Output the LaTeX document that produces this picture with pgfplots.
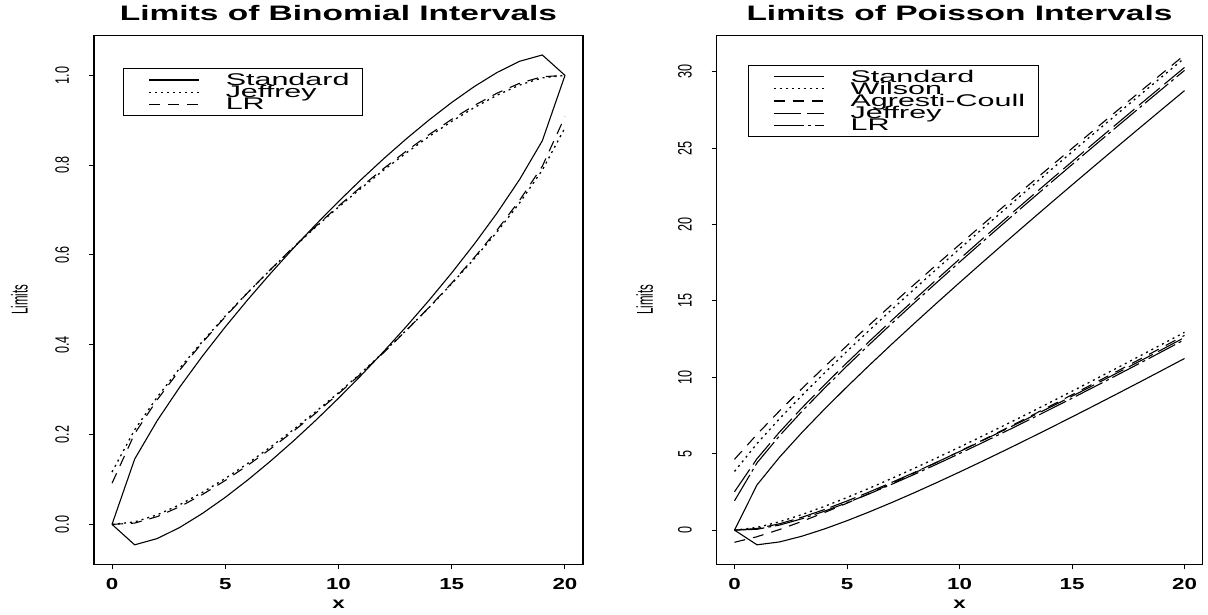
\documentclass[border=0pt]{standalone}
\usepackage{pgfplots}
\pgfplotsset{compat=1.18}
\usepackage{pgfplotstable}
\usepackage{fontspec}
\setmainfont{Liberation Sans}
\newfontfamily\titlefam[FakeStretch=1.6]{Liberation Sans}
\newfontfamily\tickfam[FakeStretch=1.4]{Liberation Sans}
\newfontfamily\ytickfam[FakeStretch=0.65]{Liberation Sans}
\newfontfamily\limfam[FakeStretch=0.5]{Liberation Sans}
\newfontfamily\legfam[FakeStretch=1.8]{Liberation Sans}
\newcommand\ttfont{\titlefam\bfseries\fontsize{21}{24}\selectfont}
\newcommand\xtfont{\tickfam\bfseries\fontsize{16}{18}\selectfont}
\newcommand\ytfont{\ytickfam\fontsize{19.5}{22}\selectfont}
\newcommand\ylfont{\limfam\fontsize{23}{26}\selectfont}
\newcommand\lgfont{\legfam\fontsize{17}{19}\selectfont}

% binomial, n = 20: standard, Jeffrey, LR limits
\pgfplotstableread{
x  slo     shi     jlo     jhi     llo     lhi
0  0       0       0       0.1166  0       0.0916
1  -0.0455 0.1455  0.0055  0.2108  0.0029  0.2022
2  -0.0315 0.2315  0.0214  0.2838  0.0174  0.2779
3  -0.0065 0.3065  0.0441  0.3486  0.0396  0.3444
4  0.0247  0.3753  0.0715  0.4079  0.0668  0.4054
5  0.0602  0.4398  0.1023  0.4640  0.0978  0.4625
6  0.0992  0.5008  0.1360  0.5170  0.1318  0.5165
7  0.1410  0.5590  0.1724  0.5673  0.1683  0.5679
8  0.1853  0.6147  0.2107  0.6159  0.2071  0.6171
9  0.2320  0.6680  0.2512  0.6626  0.2480  0.6641
10 0.2809  0.7191  0.2932  0.7068  0.2910  0.7090
11 0.3320  0.7680  0.3374  0.7488  0.3359  0.7520
12 0.3853  0.8147  0.3841  0.7893  0.3829  0.7929
13 0.4410  0.8590  0.4327  0.8276  0.4321  0.8317
14 0.4992  0.9008  0.4830  0.8640  0.4835  0.8682
15 0.5602  0.9398  0.5360  0.8977  0.5375  0.9022
16 0.6247  0.9753  0.5921  0.9285  0.5946  0.9332
17 0.6935  1.0065  0.6514  0.9559  0.6556  0.9604
18 0.7685  1.0315  0.7163  0.9786  0.7221  0.9826
19 0.8545  1.0455  0.7892  0.9945  0.7978  0.9971
20 1       1       0.8834  1       0.9084  1
}\bintab

% poisson: standard, Wilson, Agresti-Coull, Jeffrey, LR limits
\pgfplotstableread{
x  slo     shi     wlo     whi     alo     ahi     jlo     jhi     llo     lhi
0  0       0       0       3.8416  -0.7956 4.6372  0       2.512   0       1.9208
1  -0.96   2.96    0.1765  5.6651  -0.4289 6.2705  0.1079  4.674   0.0571  4.403
2  -0.772  4.772   0.5485  7.2931  0.0398  7.8018  0.4156  6.4165  0.3326  6.1758
3  -0.395  6.395   1.0202  8.8214  0.5730  9.2687  0.845   8.0065  0.7461  7.779
4  0.08    7.92    1.5555  10.2861 1.1516  10.6900 1.350   9.5115  1.2418  9.292
5  0.617   9.383   2.1357  11.7059 1.7646  12.0771 1.908   10.960  1.793   10.7465
6  1.199   10.801  2.7498  13.0918 2.4046  13.4370 2.5045  12.368  2.3847  12.158
7  1.814   12.186  3.3908  14.4508 3.0667  14.7749 3.131   13.744  3.0078  13.5377
8  2.456   13.544  4.0538  15.7878 3.7473  16.0943 3.782   15.0955 3.6554  14.8917
9  3.12    14.88   4.7350  17.1066 4.4437  17.3979 4.4535  16.426  4.3246  16.2245
10 3.802   16.198  5.4319  18.4097 5.1536  18.6880 5.1415  17.7395 5.0108  17.5395
11 4.499   17.501  6.1424  19.6992 5.8755  19.9661 5.8445  19.038  5.7119  18.839
12 5.210   18.790  6.8647  20.9769 6.6079  21.2337 6.560   20.323  6.4255  20.126
13 5.933   20.067  7.5975  22.2441 7.3498  22.4918 7.2865  21.5975 7.1514  21.401
14 6.666   21.334  8.3398  23.5018 8.1002  23.7414 8.0235  22.861  7.8872  22.666
15 7.409   22.591  9.0905  24.7511 8.8584  24.9832 8.764   24.117  8.6319  23.9216
16 8.16    23.84   9.8489  25.9927 9.6235  26.2181 9.5175  25.364  9.3846  25.170
17 8.919   25.081  10.6144 27.2272 10.3952 27.4464 10.2845 26.6015 10.145  26.409
18 9.684   26.316  11.3863 28.4553 11.1728 28.6688 11.0475 27.8355 10.913  27.642
19 10.457  27.543  12.1641 29.6775 11.9559 29.8857 11.822  29.0615 11.686  28.869
20 11.235  28.765  12.9474 30.8942 12.7441 31.0975 12.6075 30.2805 12.465  30.090
}\poitab

\pgfplotsset{
  stdl/.style={black, line width=1.1bp, solid},
  dotl/.style={black, line width=1.3bp, dash pattern=on 2bp off 4bp},
  dashl/.style={black, line width=1.1bp, dash pattern=on 11bp off 8bp},
  longl/.style={black, line width=1.1bp, dash pattern=on 27bp off 6bp},
  lrpl/.style={black, line width=1.1bp, dash pattern=on 30bp off 4bp on 3bp off 4bp},
  limitsaxis/.style={
    scale only axis, anchor=south west, height=529bp,
    xmin=-0.8, xmax=20.8,
    xtick={0,5,10,15,20}, xticklabels={0,5,10,15,20},
    tick align=outside, tick pos=left, major tick length=5bp,
    tick style={black, line width=1bp},
    axis line style={line width=1.3bp},
    xticklabel style={font=\xtfont, anchor=north, inner sep=0pt},
    xticklabel shift=9bp,
    yticklabel style={font=\ytfont, rotate=90, anchor=base, inner sep=0pt},
    yticklabel shift=20bp,
    title style={font=\ttfont, at={(0.5,1)}, anchor=base, yshift=9.3bp},
    xlabel={x},
    xlabel style={font=\xtfont, at={(axis description cs:0.5,0)}, anchor=base, yshift=-44bp},
    ylabel={Limits},
    ylabel style={font=\ylfont, anchor=base},
    legend cell align=left,
    legend image code/.code={\path[draw=none] (0bp,0bp) -- (89bp,0bp);\draw[##1] (12bp,0bp) -- (62bp,0bp);},
    legend style={anchor=north west, draw=black, line width=1bp, fill=white,
      inner xsep=13bp, inner ysep=5bp, font=\lgfont, row sep=0pt, column sep=0pt,
      nodes={inner sep=0pt, text height=11.5bp, text depth=0.7bp}},
  },
}

\begin{document}
\begin{tikzpicture}
\useasboundingbox (0,0) rectangle (1208bp,615bp);
\begin{axis}[limitsaxis,
  at={(93.9bp,50.6bp)}, width=489.2bp,
  ymin=-0.0891, ymax=1.0891,
  ytick={0,0.2,0.4,0.6,0.8,1}, yticklabels={0.0,0.2,0.4,0.6,0.8,1.0},
  title={Limits of Binomial Intervals},
  ylabel style={at={(axis description cs:-0.1355,0.5)}},
  legend style={at={(0.06,0.9376)}},
]
\addplot[stdl] table[x=x,y=slo]{\bintab}; \addlegendentry{Standard}
\addplot[stdl, forget plot] table[x=x,y=shi]{\bintab};
\addplot[dotl] table[x=x,y=jlo]{\bintab}; \addlegendentry{Jeffrey}
\addplot[dotl, forget plot] table[x=x,y=jhi]{\bintab};
\addplot[dashl] table[x=x,y=llo]{\bintab}; \addlegendentry{LR}
\addplot[dashl, forget plot] table[x=x,y=lhi]{\bintab};
\end{axis}
\begin{axis}[limitsaxis,
  at={(716.5bp,50.6bp)}, width=486bp,
  ymin=-2.242, ymax=32.38,
  ytick={0,5,10,15,20,25,30}, yticklabels={0,5,10,15,20,25,30},
  title={Limits of Poisson Intervals},
  ylabel style={at={(axis description cs:-0.1311,0.5)}},
  legend style={at={(0.065,0.944)}},
]
\addplot[stdl] table[x=x,y=slo]{\poitab}; \addlegendentry{Standard}
\addplot[stdl, forget plot] table[x=x,y=shi]{\poitab};
\addplot[dotl] table[x=x,y=wlo]{\poitab}; \addlegendentry{Wilson}
\addplot[dotl, forget plot] table[x=x,y=whi]{\poitab};
\addplot[dashl] table[x=x,y=alo]{\poitab}; \addlegendentry{Agresti-Coull}
\addplot[dashl, forget plot] table[x=x,y=ahi]{\poitab};
\addplot[longl] table[x=x,y=jlo]{\poitab}; \addlegendentry{Jeffrey}
\addplot[longl, forget plot] table[x=x,y=jhi]{\poitab};
\addplot[lrpl] table[x=x,y=llo]{\poitab}; \addlegendentry{LR}
\addplot[lrpl, forget plot] table[x=x,y=lhi]{\poitab};
\end{axis}
\end{tikzpicture}
\end{document}
